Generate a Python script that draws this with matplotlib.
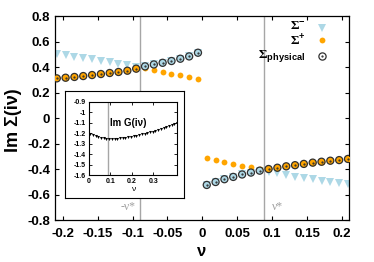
import numpy as np
import matplotlib
matplotlib.use('Agg')
import matplotlib.pyplot as plt

plt.rcParams['font.family'] = ['Liberation Sans', 'DejaVu Sans']
plt.rcParams['font.weight'] = 'bold'
plt.rcParams['axes.unicode_minus'] = False
plt.rcParams['mathtext.fontset'] = 'custom'
plt.rcParams['mathtext.rm'] = 'Liberation Serif'
plt.rcParams['mathtext.bf'] = 'Liberation Sans:bold'

# Matsubara frequencies (negative and positive side)
nu = [-0.2085, -0.1959, -0.1832, -0.1706, -0.1580, -0.1453, -0.1327, -0.1201, -0.1074,
      -0.0948, -0.0821, -0.0695, -0.0569, -0.0442, -0.0316, -0.0189, -0.0063,
      0.0063, 0.0189, 0.0316, 0.0442, 0.0569, 0.0695, 0.0821, 0.0948,
      0.1074, 0.1201, 0.1327, 0.1453, 0.1580, 0.1706, 0.1832, 0.1959, 0.2085]

sigma_minus = [0.502, 0.491, 0.480, 0.469, 0.459, 0.448, 0.437, 0.425, 0.412,
               0.400, 0.405, 0.420, 0.433, 0.447, 0.465, 0.483, 0.512,
               -0.525, -0.502, -0.480, -0.462, -0.443, -0.428, -0.413, -0.420,
               -0.434, -0.447, -0.460, -0.470, -0.482, -0.492, -0.502, -0.511, -0.519]

sigma_plus = [0.311, 0.316, 0.322, 0.329, 0.337, 0.345, 0.353, 0.361, 0.371,
              0.387, 0.392, 0.376, 0.362, 0.348, 0.334, 0.320, 0.305,
              -0.315, -0.332, -0.347, -0.360, -0.374, -0.388, -0.400, -0.400,
              -0.390, -0.379, -0.370, -0.360, -0.350, -0.343, -0.335, -0.330, -0.321]

nu_star = 0.0886

x_ticks = [-0.2, -0.15, -0.1, -0.05, 0, 0.05, 0.1, 0.15, 0.2]
x_labels = ['-0.2', '-0.15', '-0.1', '-0.05', '0', '0.05', '0.1', '0.15', '0.2']
y_ticks = [-0.8, -0.6, -0.4, -0.2, 0, 0.2, 0.4, 0.6, 0.8]
y_labels = ['-0.8', '-0.6', '-0.4', '-0.2', '0', '0.2', '0.4', '0.6', '0.8']

# inset: Im G(i nu)
nu_g = [0.0063, 0.0189, 0.0316, 0.0442, 0.0569, 0.0695, 0.0821, 0.0948, 0.1074,
        0.1201, 0.1327, 0.1453, 0.1580, 0.1706, 0.1832, 0.1959, 0.2085, 0.2211,
        0.2338, 0.2464, 0.2591, 0.2717, 0.2843, 0.2970, 0.3096, 0.3222, 0.3349,
        0.3475, 0.3601, 0.3728, 0.3854, 0.3980, 0.4107]
im_g = [-1.203, -1.215, -1.227, -1.235, -1.241, -1.246, -1.250, -1.253, -1.254,
        -1.253, -1.251, -1.248, -1.245, -1.240, -1.235, -1.230, -1.225, -1.220,
        -1.215, -1.210, -1.203, -1.197, -1.190, -1.182, -1.175, -1.167, -1.159,
        -1.151, -1.142, -1.133, -1.122, -1.112, -1.101]

ins_x_ticks = [0, 0.1, 0.2, 0.3]
ins_x_labels = ['0', '0.1', '0.2', '0.3']
ins_y_ticks = [-1.6, -1.5, -1.4, -1.3, -1.2, -1.1, -1.0, -0.9]
ins_y_labels = ['-1.6', '-1.5', '-1.4', '-1.3', '-1.2', '-1.1', '-1', '-0.9']

nu = np.array(nu)
sigma_minus = np.array(sigma_minus)
sigma_plus = np.array(sigma_plus)
inner = np.abs(nu) < nu_star
physical = np.where(inner, sigma_minus, sigma_plus)

blue = '#add8e6'
orange = '#ffa500'

fig = plt.figure(figsize=(3.74, 2.62), dpi=100)
ax = fig.add_axes([0.1471, 0.1603, 0.7861, 0.7786])

ax.axvline(-nu_star, color='#a6a6a6', lw=1.0, zorder=0)
ax.axvline(nu_star, color='#a6a6a6', lw=1.0, zorder=0)

ax.plot(nu, sigma_minus, 'v', color=blue, ms=5.5, mew=0, zorder=2)
ax.plot(nu, sigma_plus, 'o', color=orange, ms=4.2, mew=0, zorder=3)
ax.scatter(nu, physical, s=26, c=np.where(inner, blue, orange),
           edgecolors='#303030', linewidths=0.9, zorder=4)
ax.plot(nu, physical, '.', color='#303030', ms=1.2, zorder=5)

ax.set_xlim(-0.211, 0.21)
ax.set_ylim(-0.8, 0.8)
ax.set_xticks(x_ticks, x_labels)
ax.set_yticks(y_ticks, y_labels)
ax.tick_params(direction='in', length=3, width=0.8, top=True, right=True,
               labelsize=9.5)
ax.tick_params(axis='x', pad=6)
for sp in ax.spines.values():
    sp.set_linewidth(0.9)

ax.set_ylabel('Im Σ(iν)', fontsize=13, fontweight='bold')
ax.yaxis.set_label_coords(-0.113, 0.49)
ax.set_xlabel('ν', fontsize=12, fontweight='bold')
ax.xaxis.set_label_coords(0.5, -0.118)

ax.text(-0.107, -0.70, '-ν*', color='#a0a0a0', fontsize=8.5, ha='center', va='center',
        family='Liberation Serif', fontweight='normal')
ax.text(0.108, -0.70, 'ν*', color='#a0a0a0', fontsize=8.5, ha='center', va='center',
        family='Liberation Serif', fontweight='normal')

# legend (right-aligned labels, markers on the right)
leg_entries = [(r'$\Sigma^{\mathbf{-}}$', 0.948),
               (r'$\Sigma^{\mathbf{+}}$', 0.878),
               (r'$\Sigma_{\mathbf{physical}}$', 0.806)]
for label, yy in leg_entries:
    ax.text(0.852, yy, label, transform=ax.transAxes, ha='right', va='center', fontsize=9.5)
ax.plot([0.908], [0.940], 'v', color=blue, ms=5.5, mew=0, transform=ax.transAxes)
ax.plot([0.908], [0.880], 'o', color=orange, ms=4.2, mew=0, transform=ax.transAxes)
ax.plot([0.908], [0.806], 'o', mfc='none', mec='#303030', ms=5.2, mew=0.9,
        transform=ax.transAxes)
ax.plot([0.908], [0.806], '.', color='#303030', ms=1.2, transform=ax.transAxes)

# inset
frame = fig.add_axes([0.1751, 0.2424, 0.3182, 0.4103])
frame.set_xticks([])
frame.set_yticks([])
frame.set_facecolor('white')
for sp in frame.spines.values():
    sp.set_linewidth(0.8)

ins = fig.add_axes([0.2372, 0.3309, 0.2361, 0.2798])
ins.axvline(nu_star, color='#a6a6a6', lw=1.0, zorder=0)
ins.plot(nu_g, im_g, 'v', color='black', ms=2.2, mew=0)
ins.set_xlim(0, 0.41)
ins.set_ylim(-1.6, -0.9)
ins.set_xticks(ins_x_ticks, ins_x_labels)
ins.set_yticks(ins_y_ticks, ins_y_labels)
ins.tick_params(direction='in', length=2, width=0.6, top=True, right=True,
                labelsize=5, pad=2)
for sp in ins.spines.values():
    sp.set_linewidth(0.8)
ins.set_xlabel('ν', fontsize=6, fontweight='normal', labelpad=1)
ins.text(0.10, -1.1, 'Im G(iν)', fontsize=7, fontweight='bold', va='center')

fig.savefig('out.png', dpi=100)
